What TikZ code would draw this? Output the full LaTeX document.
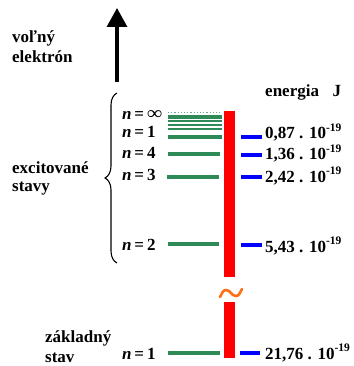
\documentclass[tikz,border=0pt]{standalone}
\usepackage{fontspec}
\setmainfont{Liberation Serif}
\usetikzlibrary{arrows.meta,decorations.pathreplacing}
\definecolor{lvlgreen}{RGB}{46,139,87}
\definecolor{lvlblue}{RGB}{0,0,255}
\definecolor{barred}{RGB}{255,0,0}
\definecolor{tildeorange}{RGB}{255,110,20}
\newcommand{\ten}{10\raisebox{0.42em}{\fontsize{11.5}{11.5}\selectfont -19}}
\newcommand{\nlab}[1]{\textbf{\textit{n}}\,=\,#1}
\begin{document}
\begin{tikzpicture}[x=1pt,y=-1pt,
  txt/.style={font=\fontsize{17}{20}\selectfont\bfseries, inner sep=0pt, align=left},
  val/.style={txt, anchor=base west},
  nlabel/.style={txt, anchor=base west},
  level/.style={draw=lvlgreen, line width=3.2pt},
  thinlevel/.style={draw=lvlgreen, line width=1.2pt},
  tick/.style={draw=lvlblue, line width=3.2pt},
  bar/.style={fill=barred, draw=none}]
\useasboundingbox (0,0) rectangle (353,366);

% free electron arrow
\coordinate (arrbot) at (117,82);
\coordinate (arrtop) at (117,8);
\draw[line width=3.2pt, -{Triangle[width=20pt,length=19pt]}] (arrbot) -- (arrtop);
\node[txt, anchor=base west] (volny) at (12,43) {voľný};
\node[txt, anchor=base west] (elektron) at (12,63) {elektrón};

% brace
\coordinate (brbot) at (117,263);
\coordinate (brtop) at (117,93);
\draw[line width=1.1pt, decorate, decoration={brace, amplitude=12pt}] (brbot) -- (brtop);
\node[txt, anchor=base west] (excit) at (12,173) {excitované};
\node[txt, anchor=base west] (stavy) at (12,191) {stavy};

% red bar
\fill[bar] (224,111) rectangle (235,277);
\fill[bar] (224,302) rectangle (235,358);
\draw[tildeorange, line width=2.6pt, line cap=round] (220,297) to[out=55,in=180] (226,290) to[out=0,in=180] (236,296) to[out=0,in=235] (242,289);

% energy levels
\draw[lvlgreen!70, line width=1.2pt, dotted] (168,112.5) -- (222,112.5);
\foreach \yy in {116,118,121,125,129} \draw[thinlevel] (168,\yy) -- (222,\yy);
\draw[level] (168,137) -- (222,137);
\draw[level] (168,154) -- (220,154);
\draw[level] (167,177) -- (219,177);
\draw[level] (168,244) -- (219,244);
\draw[level] (168,353) -- (220,353);

\node[nlabel] (ninf) at (122,120) {\nlab{\scalebox{1.25}[1.1]{∞}}};
\node[nlabel] (n1a) at (122,138) {\nlab{1}};
\node[nlabel] (n4) at (122,158) {\nlab{4}};
\node[nlabel] (n3) at (122,180) {\nlab{3}};
\node[nlabel] (n2) at (122,250) {\nlab{2}};
\node[nlabel] (n1) at (122,359) {\nlab{1}};

% blue ticks and values
\draw[tick] (241,137) -- (262,137);
\draw[tick] (241,155) -- (262,155);
\draw[tick] (241,177) -- (262,177);
\draw[tick] (241,245) -- (262,245);
\draw[tick] (240,353) -- (260,353);

\node[txt, anchor=base west] (energia) at (265,97) {energia\hspace{0.8em}J};
\node[val] (v1) at (265,139) {0,87 . \ten};
\node[val] (v2) at (265,160) {1,36 . \ten};
\node[val] (v3) at (265,182) {2,42 . \ten};
\node[val] (v4) at (265,252) {5,43 . \ten};
\node[val] (v5) at (265,359) {21,76 . \ten};

\node[txt, anchor=base west] (zakl) at (45,342) {základný};
\node[txt, anchor=base west] (stav) at (45,362) {stav};
\end{tikzpicture}
\end{document}
